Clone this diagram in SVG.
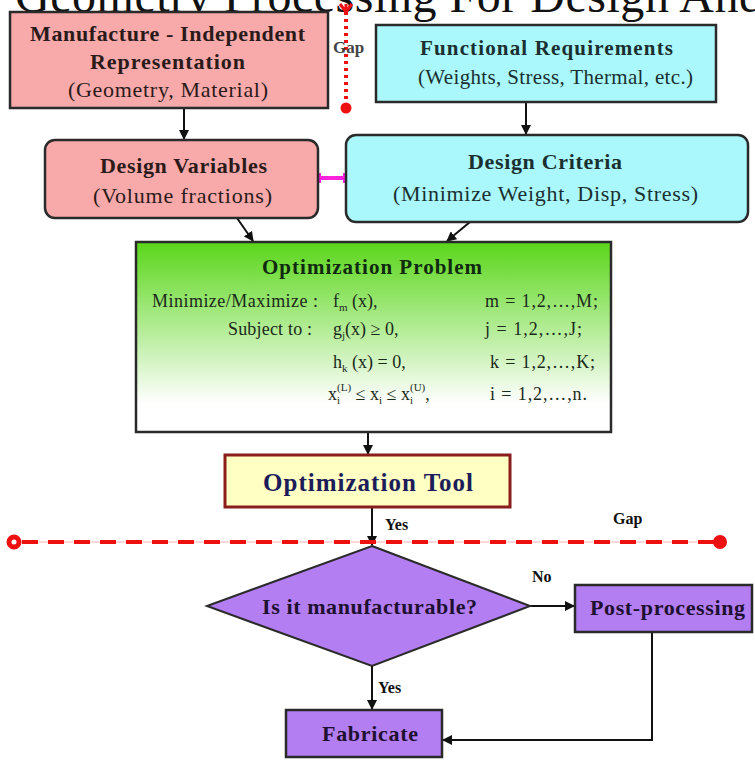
<svg xmlns="http://www.w3.org/2000/svg" width="755" height="760" viewBox="0 0 755 760">
<defs>
<style>
.b{font-family:"Liberation Serif","Times New Roman",serif;font-weight:bold}
.r{font-family:"Liberation Serif","Times New Roman",serif}
.box{stroke:#2a2a2a;stroke-width:2.5}
.ln{stroke:#111;stroke-width:2;fill:none}
</style>
<marker id="ah" viewBox="0 0 10 10" refX="9" refY="5" markerWidth="5" markerHeight="5" orient="auto"><path d="M0,0L10,5L0,10z" fill="#111"/></marker>
<linearGradient id="gg" x1="0" y1="0" x2="0" y2="1"><stop offset="0" stop-color="#5ad61a"/><stop offset="0.85" stop-color="#ffffff"/></linearGradient>
</defs>
<rect width="755" height="760" fill="#fff"/>
<text class="r" x="15" y="12" font-size="48" fill="#111" textLength="748">Geometry Processing For Design And</text>

<g id="connectors">
<line class="ln" x1="184" y1="108" x2="184" y2="139" marker-end="url(#ah)"/>
<line class="ln" x1="526" y1="102" x2="526" y2="134" marker-end="url(#ah)"/>
<line class="ln" x1="237" y1="218" x2="253" y2="241" marker-end="url(#ah)"/>
<line class="ln" x1="470" y1="222" x2="447" y2="241" marker-end="url(#ah)"/>
<line x1="320" y1="178" x2="345" y2="178" stroke="#ff22dd" stroke-width="4"/>
<line x1="320" y1="173" x2="320" y2="183" stroke="#ff22dd" stroke-width="2"/>
<line x1="344" y1="173" x2="344" y2="183" stroke="#ff22dd" stroke-width="2"/>
<line class="ln" x1="368" y1="432" x2="368" y2="454" marker-end="url(#ah)"/>
<line class="ln" x1="372" y1="507" x2="372" y2="545" marker-end="url(#ah)"/>
<line class="ln" x1="530" y1="606" x2="574" y2="606" marker-end="url(#ah)"/>
<line class="ln" x1="372" y1="666" x2="372" y2="709" marker-end="url(#ah)"/>
<polyline class="ln" points="652,632 652,740 443,740" marker-end="url(#ah)"/>
<text class="b" x="385" y="530" font-size="16" fill="#111">Yes</text>
<text class="b" x="532" y="582" font-size="16" fill="#111">No</text>
<text class="b" x="378" y="693" font-size="16" fill="#111">Yes</text>
</g>

<g id="gap-vertical">
<line x1="346" y1="12" x2="346" y2="104" stroke="#ee1111" stroke-width="4" stroke-dasharray="3,4"/>
<path d="M340,4 L346,12 L352,4 M346,4 L346,14" stroke="#ee1111" stroke-width="3" fill="none"/>
<circle cx="346" cy="108" r="5.5" fill="#ee1111"/>
<text class="b" x="333" y="53" font-size="17" fill="#444">Gap</text>
</g>

<g id="gap-horizontal">
<line x1="18" y1="542" x2="718" y2="542" stroke="#ffb0b0" stroke-width="1"/>
<line x1="22" y1="542" x2="715" y2="542" stroke="#ee1111" stroke-width="4" stroke-dasharray="16,10"/>
<circle cx="14" cy="542" r="5" fill="none" stroke="#ee1111" stroke-width="5"/>
<circle cx="720" cy="542" r="7" fill="#ee1111"/>
<text class="b" x="613" y="524" font-size="16" fill="#111">Gap</text>
</g>

<g id="n-manufacture">
<rect class="box" x="10" y="12" width="318" height="96" fill="#f8a9a9"/>
<text class="b" x="30" y="41" font-size="22" fill="#2b1a1a" textLength="275">Manufacture - Independent</text>
<text class="b" x="90" y="69" font-size="22" fill="#2b1a1a" textLength="155">Representation</text>
<text class="r" x="68" y="97" font-size="22" fill="#2b1a1a" textLength="200">(Geometry, Material)</text>
</g>

<g id="n-functional">
<rect class="box" x="376" y="25" width="340" height="77" fill="#aaf8fc"/>
<text class="b" x="420" y="55" font-size="21" fill="#1a3030" textLength="253">Functional Requirements</text>
<text class="r" x="418" y="84" font-size="21" fill="#1a3030" textLength="275">(Weights, Stress, Thermal, etc.)</text>
</g>

<g id="n-design-variables">
<rect class="box" x="45" y="140" width="273" height="78" rx="10" fill="#f8a9a9"/>
<text class="b" x="100" y="173" font-size="22" fill="#2b1a1a" textLength="167">Design Variables</text>
<text class="r" x="93" y="203" font-size="22" fill="#2b1a1a" textLength="179">(Volume fractions)</text>
</g>

<g id="n-design-criteria">
<rect class="box" x="346" y="135" width="402" height="87" rx="10" fill="#aaf8fc"/>
<text class="b" x="468" y="169" font-size="22" fill="#1a3030" textLength="154">Design Criteria</text>
<text class="r" x="393" y="201" font-size="22" fill="#1a3030" textLength="305">(Minimize Weight, Disp, Stress)</text>
</g>

<g id="n-optimization-problem">
<rect class="box" x="136" y="242" width="475" height="190" fill="url(#gg)"/>
<text class="b" x="262" y="274" font-size="21" fill="#0f2a0f" textLength="220">Optimization Problem</text>
<g class="r" font-size="18" fill="#1a2a1a">
<text x="152" y="307" textLength="166">Minimize/Maximize :</text>
<text x="333" y="307">f<tspan font-size="11" dy="4">m</tspan><tspan dy="-4"> (x),</tspan></text>
<text x="485" y="307" textLength="113">m = 1,2,…,M;</text>
<text x="228" y="335" textLength="84">Subject to :</text>
<text x="333" y="335">g<tspan font-size="11" dy="4">j</tspan><tspan dy="-4">(x) ≥ 0,</tspan></text>
<text x="485" y="335" textLength="97">j = 1,2,…,J;</text>
<text x="333" y="368">h<tspan font-size="11" dy="4">k</tspan><tspan dy="-4"> (x) = 0,</tspan></text>
<text x="490" y="368" textLength="105">k = 1,2,…,K;</text>
<text x="328" y="400">x<tspan font-size="11" dy="4">i</tspan><tspan font-size="11" dx="-3" dy="-13">(L)</tspan><tspan dy="9"> ≤ x</tspan><tspan font-size="11" dy="4">i</tspan><tspan dy="-4"> ≤ x</tspan><tspan font-size="11" dy="4">i</tspan><tspan font-size="11" dx="-3" dy="-13">(U)</tspan><tspan dy="9">,</tspan></text>
<text x="490" y="400" textLength="97">i = 1,2,…,n.</text>
</g>
</g>

<g id="n-optimization-tool">
<rect x="225" y="455" width="285" height="52" fill="#ffffc4" stroke="#8a1c1c" stroke-width="3"/>
<text class="b" x="263" y="491" font-size="25" fill="#1c1c5a" textLength="210">Optimization Tool</text>
</g>

<g id="n-manufacturable">
<polygon points="372,546 530,606 372,666 207,606" fill="#b37ef2" stroke="#2a2a2a" stroke-width="2"/>
<text class="b" x="262" y="614" font-size="22" fill="#1e1030" textLength="215">Is it manufacturable?</text>
</g>

<g id="n-post-processing">
<rect class="box" x="575" y="585" width="177" height="47" fill="#b37ef2"/>
<text class="b" x="590" y="615" font-size="22" fill="#1e1030" textLength="155">Post-processing</text>
</g>

<g id="n-fabricate">
<rect class="box" x="286" y="710" width="156" height="47" fill="#b37ef2"/>
<text class="b" x="322" y="741" font-size="22" fill="#1e1030" textLength="96">Fabricate</text>
</g>
</svg>
